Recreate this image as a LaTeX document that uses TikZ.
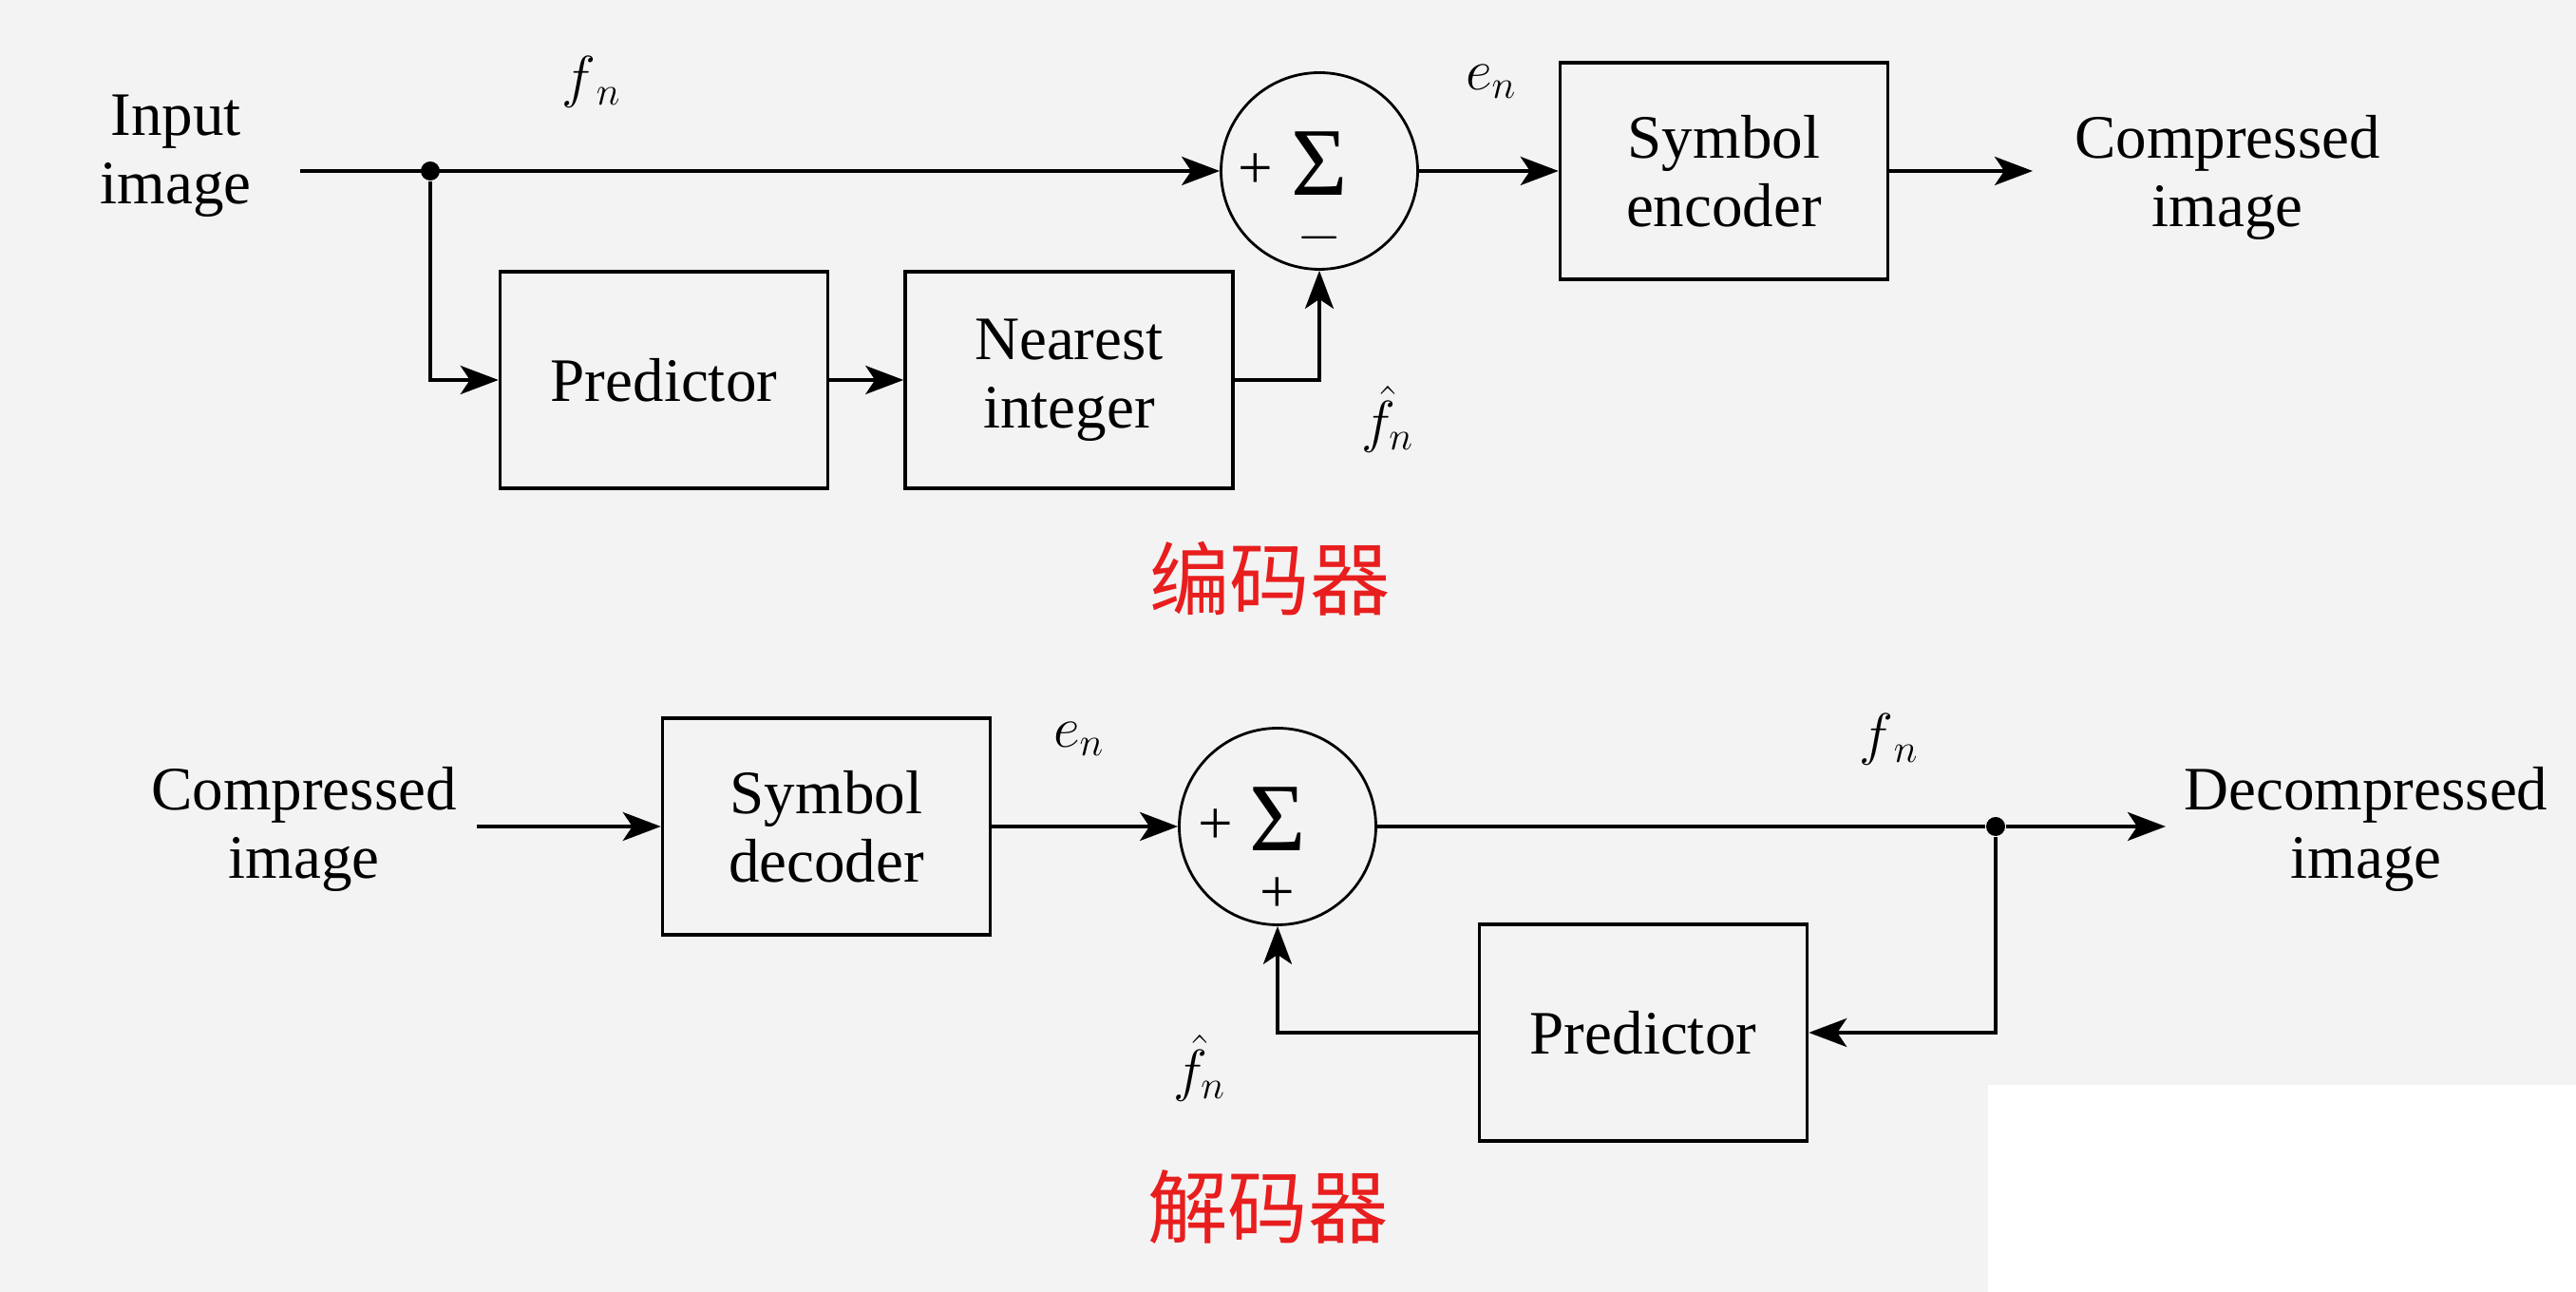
\documentclass[tikz,border=0pt]{standalone}
\usepackage{fontspec}
\setmainfont{Liberation Serif}
\newfontfamily\cjk{Noto Sans CJK SC}
\usepackage{tikz}
\usetikzlibrary{arrows.meta,positioning,calc}
\definecolor{capred}{RGB}{232,30,30}
\definecolor{scanbg}{RGB}{243,243,243}

\begin{document}
\begin{tikzpicture}[
    every node/.style={font=\fontsize{18.5}{20.5}\selectfont},
    blk/.style ={rectangle,draw,line width=1pt,minimum width=3.45cm,
                 minimum height=2.28cm,inner sep=0pt,align=center},
    sumc/.style={circle,draw,line width=0.8pt,minimum size=2.07cm,
                 inner sep=0pt},
    sgn/.style ={inner sep=0pt},
    lbl/.style ={align=center},
    mlbl/.style={inner sep=0pt},
    captxt/.style={font=\cjk\fontsize{24}{24}\selectfont,text=capred},
    junc/.style={circle,fill,inner sep=0pt,minimum size=0.2cm},
    >={Stealth[length=0.4cm,width=0.3cm,inset=0.1cm]},
    sig/.style ={->,line width=1.1pt},
  ]
  % Background
  \fill[scanbg] (0,0) rectangle (27.12,13.6);
  \fill[white] (20.93,0) rectangle (27.12,2.18);

  % Top row: encoder
  \coordinate (in1) at (3.16,11.80);
  \node[lbl]  (inlbl)  at (1.85,11.96) {Input\\image};
  \node[junc] (dot1)   at (4.53,11.80) {};
  \node[sumc] (sum1)   at (13.89,11.80) {};
  \node[sgn]  (sig1)   at ([yshift=0.08cm]sum1.center) {\fontsize{29}{29}\selectfont Σ};
  \node[sgn]  (plus1)  at ([xshift=-0.67cm]sum1.center) {+};
  \node[sgn]  (minus1) at ([yshift=-0.70cm]sum1.center) {$-$};
  \node[blk]  (enc)    at (18.15,11.80) {Symbol\\encoder};
  \coordinate (out1) at (21.40,11.80);
  \node[lbl]  (outlbl) at (23.45,11.73) {Compressed\\image};
  \node[blk]  (pred1)  at (6.99,9.60) {Predictor};
  \node[blk]  (near)   at (11.255,9.60) {Nearest\\integer};

  \node[mlbl] (fn1)   at (6.23,12.74) {$f_{\,n}$};
  \node[mlbl] (en1)   at (15.70,12.74) {$e_{n}$};
  \node[mlbl] (fhat1) at (14.61,9.19) {$\hat{f}_{n}$};

  \draw[sig] (in1) -- (sum1.west);
  \draw[sig] (dot1) |- (pred1.west);
  \draw[sig] (pred1) -- (near);
  \draw[sig] (near.east) -| (sum1.south);
  \draw[sig] (sum1) -- (enc);
  \draw[sig] (enc) -- (out1);

  \node[captxt] (enccap) at (13.37,7.51) {编码器};

  % Bottom row: decoder
  \coordinate (in2) at (5.02,4.90);
  \node[lbl]  (inlbl2) at (3.20,4.87) {Compressed\\image};
  \node[blk]  (dec)    at (8.70,4.90) {Symbol\\decoder};
  \node[sumc] (sum2)   at (13.45,4.90) {};
  \node[sgn]  (sig2)   at ([yshift=0.08cm]sum2.center) {\fontsize{29}{29}\selectfont Σ};
  \node[sgn]  (plus2)  at ([xshift=-0.65cm]sum2.center) {+};
  \node[sgn]  (plus3)  at ([yshift=-0.72cm]sum2.center) {+};
  \node[junc] (dot2)   at (21.01,4.90) {};
  \coordinate (out2) at (22.80,4.90);
  \node[lbl]  (outlbl2) at (24.91,4.87) {Decompressed\\image};
  \node[blk]  (pred2)  at (17.30,2.73) {Predictor};

  \node[mlbl] (en2)   at (11.36,5.82) {$e_{n}$};
  \node[mlbl] (fn2)   at (19.89,5.82) {$f_{\,n}$};
  \node[mlbl] (fhat2) at (12.63,2.36) {$\hat{f}_{n}$};

  \draw[sig] (in2) -- (dec);
  \draw[sig] (dec) -- (sum2);
  \draw[line width=1.1pt] (sum2) -- (dot2);
  \draw[sig] (dot2) -- (out2);
  \draw[sig] (dot2) |- (pred2.east);
  \draw[sig] (pred2.west) -| (sum2.south);

  \node[captxt] (deccap) at (13.35,0.89) {解码器};
\end{tikzpicture}
\end{document}
